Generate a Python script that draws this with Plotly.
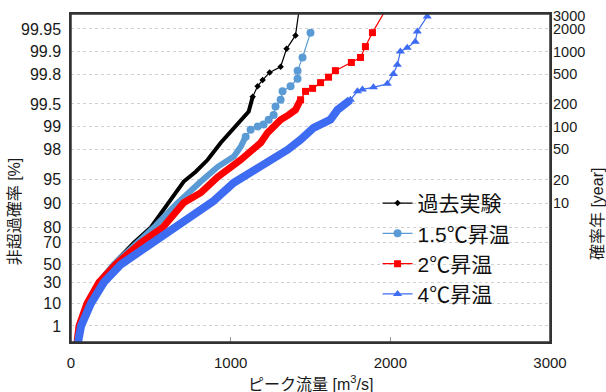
import numpy as np
import plotly.graph_objects as go

# ---------------- data ----------------
# peak discharge [m3/s] and non-exceedance probability [%]
past_q = [31, 50, 94, 169, 263, 394, 500, 613, 706, 781, 856, 938, 1044, 1113,
          1138, 1169, 1200, 1244, 1313, 1350, 1406, 1438]
past_p = [0.05, 1, 10, 30, 50, 70, 80, 90.4, 94.7, 96.05, 97.25, 98.36, 99.06, 99.37,
          99.60, 99.71, 99.76, 99.81, 99.84, 99.908, 99.939, 99.980]
past_split = 14

c15_q = [38, 56, 100, 175, 269, 413, 519, 656, 706, 813, 919, 1019, 1063, 1094,
         1125, 1169, 1206, 1238, 1269, 1281, 1313, 1325, 1375, 1419, 1419, 1450, 1500]
c15_p = [0.05, 1, 10, 30, 50, 70, 80, 89.5, 91.7, 94.7, 96.6, 97.5, 98.15, 98.64,
         98.90, 99.00, 99.06, 99.19, 99.30, 99.46, 99.56, 99.66, 99.71, 99.77, 99.82, 99.88, 99.944]
c15_split = 13

c2_q = [38, 50, 100, 175, 281, 438, 575, 706, 813, 919, 1063, 1125, 1188, 1231,
        1269, 1313, 1363, 1406, 1438, 1469, 1513, 1563, 1613, 1656, 1756, 1813, 1844, 1888, 1988]
c2_p = [0.05, 1, 10, 30, 50, 70, 80, 90.1, 92.6, 95.4, 97.25, 97.85, 98.36, 98.79,
        99.00, 99.19, 99.30, 99.40, 99.56, 99.66, 99.69, 99.74, 99.78, 99.82, 99.86, 99.88, 99.914, 99.944, 99.976]
c2_split = 18

c4_q = [44, 63, 125, 206, 313, 513, 656, 706, 888, 1019, 1188, 1356, 1438, 1519,
        1625, 1669, 1750, 1794, 1825, 1894, 1981, 2019, 2044, 2063, 2106, 2156, 2169, 2231]
c4_p = [0.05, 1, 10, 30, 50, 70, 80, 82.4, 90.4, 94.5, 96.6, 97.97, 98.51, 98.96,
        99.19, 99.40, 99.56, 99.66, 99.68, 99.70, 99.73, 99.80, 99.85, 99.90, 99.911, 99.926, 99.946, 99.966]
c4_split = 16

names = ["過去実験", "1.5℃昇温", "2℃昇温", "4℃昇温"]
colors = ["#000000", "#5B9BD5", "#FF0000", "#3D6BF2"]
symbols = ["diamond", "circle", "square", "triangle-up"]
msizes = [5, 8, 7, 8]
bandw = [4, 6, 7, 8]

prob_ticks = [1, 10, 30, 50, 70, 80, 90, 95, 98, 99, 99.5, 99.8, 99.9, 99.95]
prob_labels = ["1", "10", "30", "50", "70", "80", "90", "95", "98", "99",
               "99.5", "99.8", "99.9", "99.95"]
rp_ticks = [10, 20, 50, 100, 200, 500, 1000, 2000, 3000]


def gumbel(p_percent):
    p = np.asarray(p_percent, dtype=float) / 100.0
    return -np.log(-np.log(p))


def gumbel_rp(T):
    T = np.asarray(T, dtype=float)
    return -np.log(-np.log(1 - 1 / T))


series = [(past_q, past_p, past_split), (c15_q, c15_p, c15_split),
          (c2_q, c2_p, c2_split), (c4_q, c4_p, c4_split)]

FONT = "Liberation Sans, Arial, Noto Sans CJK JP, sans-serif"

fig = go.Figure()
for i, (q, p, s) in enumerate(series):
    y = gumbel(p)
    fig.add_trace(go.Scatter(x=q[:s + 1], y=y[:s + 1], mode="lines",
                             line=dict(color=colors[i], width=bandw[i]),
                             showlegend=False, hoverinfo="skip"))
    fig.add_trace(go.Scatter(x=q[s:], y=y[s:], mode="lines+markers", name=names[i],
                             line=dict(color=colors[i], width=1.2),
                             marker=dict(symbol=symbols[i], size=msizes[i], color=colors[i])))

# hidden trace so the return-period axis is drawn
fig.add_trace(go.Scatter(x=c4_q[:1], y=gumbel(c4_p[:1]), yaxis="y2", mode="markers",
                         marker=dict(opacity=0), showlegend=False, hoverinfo="skip"))

yr = [-2.02, 8.06]
fig.update_layout(
    width=606, height=392,
    margin=dict(l=71, r=56, t=14, b=50, autoexpand=False),
    paper_bgcolor="white", plot_bgcolor="white",
    font=dict(family=FONT, size=16, color="#1a1a1a"),
    xaxis=dict(range=[0, 3000], tickvals=[0, 1000, 2000, 3000],
               showgrid=False, zeroline=False, showline=True, mirror=True,
               linecolor="#333333", linewidth=1.5, ticks="inside", ticklen=5,
               tickcolor="#999999", ticklabelstandoff=6, tickfont=dict(size=15)),
    yaxis=dict(range=yr, tickvals=list(gumbel(prob_ticks)), ticktext=prob_labels,
               showgrid=True, gridcolor="#d0d0d0", griddash="dot", gridwidth=1,
               zeroline=False, showline=True, mirror=True, linecolor="#333333",
               linewidth=1.5, ticks="", ticklabelstandoff=5),
    yaxis2=dict(range=yr, overlaying="y", side="right",
                tickvals=list(gumbel_rp(rp_ticks)), ticktext=[str(t) for t in rp_ticks],
                showgrid=False, zeroline=False, showline=False, ticks="",
                ticklabelstandoff=2, tickfont=dict(size=14.5)),
    legend=dict(x=0.64, y=0.485, xanchor="left", yanchor="top",
                bgcolor="rgba(0,0,0,0)", font=dict(size=21, color="#111111"),
                itemwidth=30, tracegroupgap=0),
    showlegend=True,
)

# plot frame
fig.add_shape(type="rect", xref="paper", yref="paper", x0=0, y0=0, x1=1, y1=1,
              line=dict(color="#333333", width=1.5), layer="above")

fig.add_annotation(text="ピーク流量 [m<sup>3</sup>/s]", xref="paper", yref="paper",
                   x=0.5, y=-0.125, xanchor="center", yanchor="middle",
                   showarrow=False, font=dict(size=16))
fig.add_annotation(text="非超過確率 [%]", xref="paper", yref="paper",
                   x=-0.118, y=0.40, xanchor="center", yanchor="middle",
                   textangle=-90, showarrow=False, font=dict(size=16))
fig.add_annotation(text="確率年 [year]", xref="paper", yref="paper",
                   x=1.098, y=0.39, xanchor="center", yanchor="middle",
                   textangle=-90, showarrow=False, font=dict(size=16))

fig.write_html("out.html", config={"displayModeBar": False},
               post_script="document.body.style.margin='0';document.body.style.overflow='hidden';")
